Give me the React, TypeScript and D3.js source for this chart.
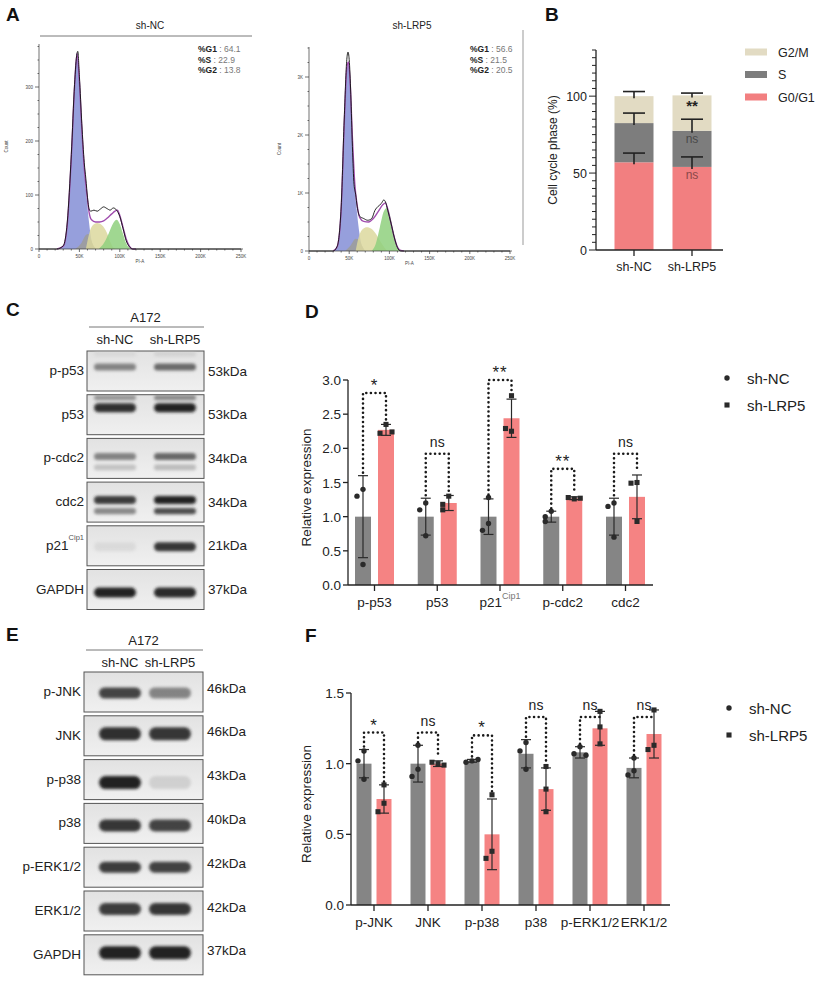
import React from "react";
import * as d3 from "d3";

const FONT = "Arial, 'Liberation Sans', Helvetica, sans-serif";
const INK = "#222";
const BAR_GRAY = "#858585";
const BAR_PINK = "#f58383";

type Pt = [number, number];

// ---------- A: PI-A histograms, x in K, y = count ----------
const ncData: Pt[] = [[0, 0], [22, 0], [30, 6], [35, 50], [40, 175], [44, 305], [47, 362], [48, 366], [50, 320], [53, 232], [56, 160], [58, 130], [60, 96], [62, 74], [64, 70], [68, 72], [72, 70], [76, 74], [80, 78], [84, 75], [88, 72], [92, 76], [96, 72], [100, 60], [104, 38], [108, 15], [112, 4], [116, 0], [250, 0]];
const ncFit: Pt[] = [[22, 0], [30, 5], [35, 45], [40, 170], [44, 300], [47, 362], [50, 310], [53, 222], [56, 150], [59, 105], [62, 68], [65, 54], [70, 50], [75, 50], [80, 52], [85, 58], [90, 65], [94, 70], [97, 72], [100, 62], [104, 40], [108, 18], [112, 5], [116, 0], [120, 0]];
const ncG1: Pt[] = [[25, 0], [30, 5], [35, 45], [40, 170], [44, 300], [47, 362], [50, 310], [53, 220], [56, 150], [59, 95], [62, 48], [65, 16], [68, 3], [72, 0]];
const ncDebris: Pt[] = [[45, 0], [52, 10], [58, 26], [61, 28], [64, 18], [68, 5], [71, 0]];
const ncS: Pt[] = [[58, 0], [62, 28], [66, 43], [72, 48], [78, 44], [84, 30], [88, 14], [92, 3], [96, 0]];
const ncG2: Pt[] = [[74, 0], [80, 10], [86, 28], [92, 48], [96, 54], [100, 46], [104, 28], [108, 10], [112, 2], [115, 0]];
const ncStats = [["%G1", "64.1"], ["%S", "22.9"], ["%G2", "13.8"]];

const lrpData: Pt[] = [[0, 0], [30, 0], [35, 80], [40, 760], [44, 2350], [47, 3300], [48.5, 3430], [50, 3300], [52, 2700], [54, 1800], [56, 1150], [58, 980], [60, 760], [63, 600], [68, 560], [73, 530], [78, 560], [82, 700], [86, 770], [90, 820], [93, 880], [95, 850], [98, 700], [102, 480], [106, 240], [110, 60], [114, 0], [250, 0]];
const lrpFit: Pt[] = [[30, 0], [35, 70], [40, 720], [44, 2250], [47, 3150], [49, 3260], [51, 2950], [54, 1950], [57, 1150], [60, 780], [63, 580], [68, 510], [74, 500], [80, 560], [86, 680], [92, 800], [95, 830], [98, 720], [102, 480], [106, 240], [110, 70], [114, 10], [118, 0]];
const lrpG1: Pt[] = [[30, 0], [35, 60], [40, 700], [44, 2200], [47, 3100], [49, 3240], [51, 2900], [54, 1900], [57, 1100], [60, 620], [63, 280], [66, 80], [70, 0]];
const lrpDebris: Pt[] = [[45, 0], [52, 100], [58, 210], [62, 200], [66, 90], [70, 0]];
const lrpS: Pt[] = [[58, 0], [62, 250], [67, 380], [72, 410], [78, 380], [84, 280], [90, 140], [95, 40], [98, 0]];
const lrpG2: Pt[] = [[78, 0], [83, 120], [88, 400], [93, 680], [97, 740], [101, 600], [105, 330], [109, 100], [113, 10], [116, 0]];
const lrpStats = [["%G1", "56.6"], ["%S", "21.5"], ["%G2", "20.5"]];

const xTickLabels = ["0", "50K", "100K", "150K", "200K", "250K"];

// ---------- B: cell cycle phases ----------
const phaseGroups = ["sh-NC", "sh-LRP5"];
const phaseKeys = ["G0/G1", "S", "G2/M"];
const g0g1Mean = [57, 54];
const sMean = [25.5, 23.5];
const g2mMean = [17.5, 23];
const g0g1Sd = [6, 6.5];
const sSd = [6.5, 7.5];
const g2mSd = [3, 1.5];
const lrpPhaseMarks = ["ns", "ns", "**"];
const phaseColors = ["#f27f80", "#7d7d7d", "#e2dbc3"];

// ---------- C: blot ----------
const cRows = ["p-p53", "p53", "p-cdc2", "cdc2", "p21", "GAPDH"];
const cKda = ["53kDa", "53kDa", "34kDa", "34kDa", "21kDa", "37kDa"];
const cNc = [0.62, 0.92, 0.62, 0.88, 0.14, 0.95];
const cLrp = [0.72, 0.95, 0.72, 0.95, 0.9, 0.93];
const cNcLower = [0, 0, 0.32, 0.6, 0, 0];
const cLrpLower = [0, 0, 0.36, 0.82, 0, 0];
const cNcUpper = [0.12, 0.55, 0, 0, 0, 0];
const cLrpUpper = [0.18, 0.6, 0, 0, 0, 0];

// ---------- D: relative expression ----------
const dCats = ["p-p53", "p53", "p21", "p-cdc2", "cdc2"];
const dNcMean = [1, 1, 1, 1, 1];
const dNcSd = [0.6, 0.27, 0.26, 0.08, 0.27];
const dLrpMean = [2.27, 1.2, 2.44, 1.27, 1.29];
const dLrpSd = [0.08, 0.11, 0.28, 0.02, 0.32];
const dNcPts = [[1.4, 1.3, 0.3], [1.2, 1.1, 0.72], [1.28, 0.9, 0.8], [1.08, 1.0, 0.93], [1.2, 1.15, 0.7]];
const dLrpPts = [[2.35, 2.22, 2.24], [1.3, 1.18, 1.1], [2.77, 2.25, 2.29], [1.26, 1.28, 1.27], [1.5, 1.49, 0.93]];
const dSig = ["*", "ns", "**", "**", "ns"];
const dBracket = [2.81, 1.92, 3.0, 1.7, 1.92];

// ---------- E: blot ----------
const eRows = ["p-JNK", "JNK", "p-p38", "p38", "p-ERK1/2", "ERK1/2", "GAPDH"];
const eKda = ["46kDa", "46kDa", "43kDa", "40kDa", "42kDa", "42kDa", "37kDa"];
const eNc = [0.85, 0.92, 0.96, 0.9, 0.88, 0.88, 0.95];
const eLrp = [0.62, 0.9, 0.22, 0.85, 0.86, 0.9, 0.95];

// ---------- F: relative expression ----------
const fCats = ["p-JNK", "JNK", "p-p38", "p38", "p-ERK1/2", "ERK1/2"];
const fNcMean = [1.0, 1.0, 1.02, 1.07, 1.08, 0.97];
const fNcSd = [0.1, 0.13, 0.01, 0.1, 0.04, 0.07];
const fLrpMean = [0.75, 1.0, 0.5, 0.82, 1.25, 1.21];
const fLrpSd = [0.1, 0.02, 0.25, 0.15, 0.12, 0.17];
const fNcPts = [[1.09, 1.02, 0.89], [1.13, 0.96, 0.91], [1.02, 1.01, 1.03], [1.15, 1.09, 0.96], [1.12, 1.07, 1.06], [1.04, 0.95, 0.92]];
const fLrpPts = [[0.85, 0.72, 0.66], [1.0, 1.01, 0.99], [0.78, 0.38, 0.33], [0.98, 0.82, 0.66], [1.37, 1.26, 1.14], [1.38, 1.13, 1.1]];
const fSig = ["*", "ns", "*", "ns", "ns", "ns"];
const fBracket = [1.22, 1.22, 1.2, 1.33, 1.33, 1.33];

function FlowHist(p: any) {
  const x = d3.scaleLinear().domain([0, 250]).range([p.xLeft, p.xRight]);
  const y = d3.scaleLinear().domain([0, p.unit]).range([p.yBase, p.yBase - p.unitPx]);
  const area = d3.area<Pt>().x((d) => x(d[0])).y0(p.yBase).y1((d) => y(d[1])).curve(d3.curveMonotoneX);
  const line = d3.line<Pt>().x((d) => x(d[0])).y((d) => y(d[1])).curve(d3.curveMonotoneX);
  const yTop = y.invert(p.axisTop);
  const minor = d3.range(0, yTop, p.unit / 4);
  const xMinor = d3.range(0, 255, 10);
  return (
    <g>
      <text x={p.titleX} y={29} fontSize={10} textAnchor="middle" fill={INK}>{p.title}</text>
      {p.topLine && <line x1={40} x2={252} y1={36} y2={36} stroke="#555" strokeWidth={0.8} />}
      <path d={area(p.g1) || ""} fill="#8b95d8" opacity={0.9} />
      <path d={area(p.debris) || ""} fill="#9c9c9c" opacity={0.9} />
      <path d={area(p.s) || ""} fill="#dcd89e" opacity={0.85} />
      <path d={area(p.g2) || ""} fill="#8fd07e" opacity={0.85} />
      <path d={line(p.fit) || ""} fill="none" stroke="#a04cae" strokeWidth={1.4} />
      <path d={line(p.data) || ""} fill="none" stroke="#111" strokeWidth={0.9} />
      <line x1={p.xLeft} x2={p.xLeft} y1={p.axisTop} y2={p.yBase} stroke="#333" strokeWidth={0.7} />
      <line x1={p.xLeft} x2={p.xRight + 2} y1={p.yBase} y2={p.yBase} stroke="#333" strokeWidth={0.7} />
      {minor.map((v, i) => (
        <line key={"ym" + i} x1={p.xLeft - (i % 4 === 0 ? 4 : 1.5)} x2={p.xLeft} y1={y(v)} y2={y(v)} stroke="#333" strokeWidth={0.7} />
      ))}
      {p.yLabels.map((t: string, i: number) => (
        <text key={"yl" + i} x={p.xLeft - 6} y={y(i * p.unit) + 1.5} fontSize={4.5} textAnchor="end" fill="#444">{t}</text>
      ))}
      {xMinor.map((v, i) => (
        <line key={"xm" + i} x1={x(v)} x2={x(v)} y1={p.yBase} y2={p.yBase + (v % 50 === 0 ? 3 : 1.5)} stroke="#333" strokeWidth={0.7} />
      ))}
      {xTickLabels.map((t, i) => (
        <text key={"xl" + i} x={x(i * 50)} y={p.yBase + 9} fontSize={4.5} textAnchor="middle" fill="#444">{t}</text>
      ))}
      <text transform={`translate(${p.countX},${(p.axisTop + p.yBase) / 2}) rotate(-90)`} fontSize={4.5} textAnchor="middle" fill="#444">Count</text>
      <text x={(p.xLeft + p.xRight) / 2} y={p.yBase + 14} fontSize={4.5} textAnchor="middle" fill="#444">PI-A</text>
      {p.stats.map((s: string[], i: number) => (
        <text key={"st" + i} x={p.statsX} y={52 + i * 10.5} fontSize={8.5}>
          <tspan fontWeight="bold" fill={INK}>{s[0]}</tspan>
          <tspan fill="#777">{" : " + s[1]}</tspan>
        </text>
      ))}
    </g>
  );
}

function PhaseChart() {
  const x = d3.scalePoint<string>().domain(phaseGroups).range([634, 692]);
  const y = d3.scaleLinear().domain([0, 130]).range([250, 50]);
  const rows = phaseGroups.map((g, i) => ({ group: g, "G0/G1": g0g1Mean[i], S: sMean[i], "G2/M": g2mMean[i] }));
  const stacked = d3.stack<any>().keys(phaseKeys)(rows);
  const sds = [g0g1Sd, sSd, g2mSd];
  const barW = 39;
  return (
    <g>
      {stacked.map((layer, k) =>
        layer.map((d, i) => (
          <rect key={k + "-" + i} x={(x(phaseGroups[i]) as number) - barW / 2} y={y(d[1])} width={barW} height={y(d[0]) - y(d[1])} fill={phaseColors[k]} />
        ))
      )}
      {stacked.map((layer, k) =>
        layer.map((d, i) => {
          const cx = x(phaseGroups[i]) as number;
          const top = y(d[1] + sds[k][i]);
          return (
            <g key={"e" + k + i} stroke={INK} strokeWidth={1.6}>
              <line x1={cx} x2={cx} y1={top} y2={y(d[1]) + 2} />
              <line x1={cx - 11} x2={cx + 11} y1={top} y2={top} />
            </g>
          );
        })
      )}
      {stacked.map((layer, k) => {
        const d = layer[1];
        const star = k === 2;
        return (
          <text key={"m" + k} x={x("sh-LRP5")} y={y(d[1] - 5.5)} dy={star ? 7 : 4} fontSize={star ? 15 : 12} textAnchor="middle"
            fill={star ? INK : k === 1 ? "#4a4a4a" : "#8a4848"} fontWeight={star ? "bold" : "normal"}>
            {lrpPhaseMarks[k]}
          </text>
        );
      })}
      <line x1={596} x2={596} y1={y(130)} y2={y(0)} stroke={INK} strokeWidth={1.3} />
      <line x1={596} x2={723} y1={y(0)} y2={y(0)} stroke={INK} strokeWidth={1.3} />
      {d3.range(0, 131, 5).map((v) => (
        <line key={"t" + v} x1={596 - (v % 50 === 0 ? 7 : 4)} x2={596} y1={y(v)} y2={y(v)} stroke={INK} strokeWidth={1} />
      ))}
      {[0, 50, 100].map((v) => (
        <text key={"l" + v} x={587} y={y(v) + 4.5} fontSize={12.5} textAnchor="end" fill={INK}>{v}</text>
      ))}
      {phaseGroups.map((g) => (
        <g key={g}>
          <line x1={x(g)} x2={x(g)} y1={250} y2={256} stroke={INK} strokeWidth={1.3} />
          <text x={x(g)} y={271} fontSize={12.5} textAnchor="middle" fill={INK}>{g}</text>
        </g>
      ))}
      <text transform="translate(557,150) rotate(-90)" fontSize={12} textAnchor="middle" fill={INK}>Cell cycle phase (%)</text>
      {[2, 1, 0].map((k, j) => (
        <g key={"lg" + k}>
          <rect x={745} y={48.5 + j * 22.5} width={22} height={7} fill={phaseColors[k]} />
          <text x={778} y={56.5 + j * 22.5} fontSize={12.5} fill={INK}>{phaseKeys[k]}</text>
        </g>
      ))}
    </g>
  );
}

function Blot(p: any) {
  const shade = d3.interpolateRgb("#e4e4e4", "#141414");
  const n = p.rows.length;
  const rowY = d3.scaleLinear().domain([0, n - 1]).range([p.top, p.top + (n - 1) * p.step]);
  const lanes = [p.laneA, p.laneB];
  const band = (cx: number, cy: number, h: number, v: number, key: string) =>
    v > 0 ? (
      <rect key={key} x={cx - p.bandW / 2} y={cy - h / 2} width={p.bandW} height={h} rx={h / 2} fill={shade(v)} opacity={0.35 + 0.65 * v} filter="url(#bandBlur)" />
    ) : null;
  return (
    <g>
      <text x={(p.left + p.right) / 2} y={p.headerY} fontSize={13} textAnchor="middle" fill={INK}>A172</text>
      <line x1={p.left + 2} x2={p.right} y1={p.lineY} y2={p.lineY} stroke="#777" strokeWidth={1} />
      <text x={p.laneA} y={p.laneLabelY} fontSize={13} textAnchor="middle" fill={INK}>sh-NC</text>
      <text x={p.laneB} y={p.laneLabelY} fontSize={13} textAnchor="middle" fill={INK}>sh-LRP5</text>
      {p.rows.map((r: string, i: number) => {
        const y0 = rowY(i);
        return (
          <g key={r + i}>
            <rect x={p.left} y={y0} width={p.right - p.left} height={p.boxH} fill="url(#membrane)" stroke="#555" strokeWidth={1} />
            <g clipPath={`url(#${p.id}-clip${i})`}>
              <clipPath id={`${p.id}-clip${i}`}>
                <rect x={p.left} y={y0} width={p.right - p.left} height={p.boxH} />
              </clipPath>
              {lanes.map((lx: number, l: number) => band(lx, y0 + p.bandY[i], p.bandH[i], p.main[l][i], "m" + l))}
              {p.lower && lanes.map((lx: number, l: number) => band(lx, y0 + p.bandY[i] + 11, p.bandH[i] * 0.8, p.lower[l][i], "lo" + l))}
              {p.upper && lanes.map((lx: number, l: number) => band(lx, y0 + 3, 5, p.upper[l][i], "up" + l))}
            </g>
            <text x={p.left - 3} y={y0 + p.boxH / 2 + 4} fontSize={13.5} textAnchor="end" fill={INK}>
              {r === "p21" ? (
                <>
                  <tspan>p21</tspan>
                  <tspan fontSize={7.5} dy={-10} fill="#555">Cip1</tspan>
                </>
              ) : r}
            </text>
            <text x={p.right + 4} y={y0 + p.kdaY + 4.5} fontSize={13.5} fill={INK}>{p.kda[i]}</text>
          </g>
        );
      })}
    </g>
  );
}

function spread(vals: number[], y: d3.ScaleLinear<number, number>) {
  return vals.map((v, i) => {
    let c = 0;
    for (let j = 0; j < i; j++) if (Math.abs(y(vals[j]) - y(v)) < 10) c++;
    return [0, -6, 6][Math.min(c, 2)];
  });
}

function ExprChart(p: any) {
  const x = d3.scalePoint<string>().domain(p.cats).range([p.xFirst, p.xLast]);
  const y = d3.scaleLinear().domain([0, p.yMax]).range([p.yBase, p.yTopPx]);
  const ticks = d3.range(0, p.yMax + 1e-9, p.yStep);
  const sq = d3.symbol().type(d3.symbolSquare).size(26)();
  const groups = [
    { mean: p.nc, sd: p.ncSd, pts: p.ncPts, fill: BAR_GRAY, dx: -p.off, square: false },
    { mean: p.lrp, sd: p.lrpSd, pts: p.lrpPts, fill: BAR_PINK, dx: p.off, square: true },
  ];
  return (
    <g>
      {p.cats.map((c: string, i: number) => {
        const cx = x(c) as number;
        return (
          <g key={c}>
            {groups.map((g, k) => {
              const bx = cx + g.dx;
              const top = y(g.mean[i] + g.sd[i]);
              const bot = y(Math.max(0, g.mean[i] - g.sd[i]));
              const offs = spread(g.pts[i], y);
              return (
                <g key={k}>
                  <rect x={bx - p.barW / 2} y={y(g.mean[i])} width={p.barW} height={p.yBase - y(g.mean[i])} fill={g.fill} />
                  <g stroke="#2a2a2a" strokeWidth={1.2}>
                    <line x1={bx} x2={bx} y1={top} y2={bot} />
                    <line x1={bx - 5} x2={bx + 5} y1={top} y2={top} />
                    <line x1={bx - 5} x2={bx + 5} y1={bot} y2={bot} />
                  </g>
                  {g.pts[i].map((v: number, j: number) =>
                    g.square ? (
                      <path key={j} d={sq || ""} transform={`translate(${bx + offs[j]},${y(v)})`} fill="#2a2a2a" />
                    ) : (
                      <circle key={j} cx={bx + offs[j]} cy={y(v)} r={2.7} fill="#2a2a2a" />
                    )
                  )}
                </g>
              );
            })}
            {(() => {
              const topY = y(p.bracket[i]);
              const legs = groups.map((g) => Math.max(topY, y(Math.max(g.mean[i] + g.sd[i], d3.max(g.pts[i] as number[]) || 0)) - 3));
              const lx = cx - p.off;
              const rx = cx + p.off;
              const star = p.sig[i] !== "ns";
              return (
                <g>
                  <path d={`M${lx},${legs[0]}V${topY}H${rx}V${legs[1]}`} fill="none" stroke="#1a1a1a" strokeWidth={2.6} strokeDasharray="0.01 4.6" strokeLinecap="round" />
                  <text x={cx} y={topY - (star ? 2 : 7)} fontSize={star ? 17 : 14} textAnchor="middle" fill={INK} letterSpacing={star ? 1 : 0}>{p.sig[i]}</text>
                </g>
              );
            })()}
            <line x1={cx} x2={cx} y1={p.yBase} y2={p.yBase + 6} stroke={INK} strokeWidth={1.3} />
            <text x={cx} y={p.yBase + 22} fontSize={13.5} textAnchor="middle" fill={INK}>
              {c === "p21" ? (
                <>
                  <tspan>p21</tspan>
                  <tspan fontSize={9} dy={-8} fill="#777">Cip1</tspan>
                </>
              ) : c}
            </text>
          </g>
        );
      })}
      <line x1={p.axisX} x2={p.axisX} y1={p.yTopPx} y2={p.yBase} stroke={INK} strokeWidth={1.3} />
      <line x1={p.axisX} x2={p.axisEnd} y1={p.yBase} y2={p.yBase} stroke={INK} strokeWidth={1.3} />
      {ticks.map((v) => (
        <g key={v}>
          <line x1={p.axisX - 5} x2={p.axisX} y1={y(v)} y2={y(v)} stroke={INK} strokeWidth={1.3} />
          <text x={p.axisX - 7} y={y(v) + 5} fontSize={13.5} textAnchor="end" fill={INK}>{v.toFixed(1)}</text>
        </g>
      ))}
      <text transform={`translate(${p.titleX},${(p.yTopPx + p.yBase) / 2 + 5}) rotate(-90)`} fontSize={13.5} textAnchor="middle" fill={INK}>Relative expression</text>
      <circle cx={p.legendX} cy={p.legendY} r={2.7} fill="#2a2a2a" />
      <text x={p.legendX + 20} y={p.legendY + 5.5} fontSize={15} fill={INK}>sh-NC</text>
      <path d={sq || ""} transform={`translate(${p.legendX},${p.legendY + 27})`} fill="#2a2a2a" />
      <text x={p.legendX + 20} y={p.legendY + 32.5} fontSize={15} fill={INK}>sh-LRP5</text>
    </g>
  );
}

export default function App() {
  return (
    <svg width={825} height={981} viewBox="0 0 825 981" style={{ position: "absolute", left: 0, top: 0, background: "#fff" }} fontFamily={FONT}>
      <defs>
        <filter id="bandBlur" x="-30%" y="-150%" width="160%" height="400%">
          <feGaussianBlur stdDeviation="1.8" />
        </filter>
        <linearGradient id="membrane" x1="0" y1="0" x2="0" y2="1">
          <stop offset="0" stopColor="#e2e2e2" />
          <stop offset="1" stopColor="#f0f0f0" />
        </linearGradient>
      </defs>

      {[["A", 6, 21], ["B", 545, 21], ["C", 6, 316], ["D", 305, 318], ["E", 6, 641], ["F", 305, 642]].map(([t, x, y]) => (
        <text key={t as string} x={x as number} y={y as number} fontSize={19} fontWeight="bold" fill="#111">{t}</text>
      ))}

      <FlowHist xLeft={39} xRight={241} yBase={249} axisTop={44} unit={100} unitPx={54} yLabels={["0", "100", "200", "300"]}
        countX={8} title="sh-NC" titleX={150} topLine statsX={198} stats={ncStats}
        data={ncData} fit={ncFit} g1={ncG1} debris={ncDebris} s={ncS} g2={ncG2} />
      <FlowHist xLeft={309} xRight={510} yBase={251} axisTop={47} unit={1000} unitPx={58} yLabels={["0", "1K", "2K", "3K"]}
        countX={281} title="sh-LRP5" titleX={412} statsX={470} stats={lrpStats}
        data={lrpData} fit={lrpFit} g1={lrpG1} debris={lrpDebris} s={lrpS} g2={lrpG2} />
      <line x1={523} x2={523} y1={30} y2={245} stroke="#999" strokeWidth={1} />

      <PhaseChart />

      <Blot id="c" rows={cRows} kda={cKda} left={87} right={204} top={351} step={43.7} boxH={40}
        laneA={115} laneB={175} bandW={42} bandY={[16, 13, 18, 18, 21, 23]} bandH={[7, 9, 7, 8, 9, 10]} kdaY={20}
        main={[cNc, cLrp]} lower={[cNcLower, cLrpLower]} upper={[cNcUpper, cLrpUpper]}
        headerY={322} lineY={327} laneLabelY={344} />
      <ExprChart cats={dCats} nc={dNcMean} ncSd={dNcSd} lrp={dLrpMean} lrpSd={dLrpSd} ncPts={dNcPts} lrpPts={dLrpPts}
        sig={dSig} bracket={dBracket} yMax={3} yStep={0.5} xFirst={374.5} xLast={625.5} yBase={585} yTopPx={380}
        axisX={348} axisEnd={653} barW={16} off={11.5} titleX={311} legendX={727} legendY={378} />

      <Blot id="e" rows={eRows} kda={eKda} left={84} right={203} top={672} step={43.8} boxH={40}
        laneA={120} laneB={170} bandW={42} bandY={[21, 18, 23, 22, 20, 18, 18]} bandH={[11, 13, 13, 12, 11, 12, 13]} kdaY={16}
        main={[eNc, eLrp]} headerY={645} lineY={650} laneLabelY={667} />
      <ExprChart cats={fCats} nc={fNcMean} ncSd={fNcSd} lrp={fLrpMean} lrpSd={fLrpSd} ncPts={fNcPts} lrpPts={fLrpPts}
        sig={fSig} bracket={fBracket} yMax={1.5} yStep={0.5} xFirst={374} xLast={644} yBase={905} yTopPx={693}
        axisX={351} axisEnd={670} barW={15} off={10} titleX={311} legendX={729} legendY={708} />
    </svg>
  );
}
